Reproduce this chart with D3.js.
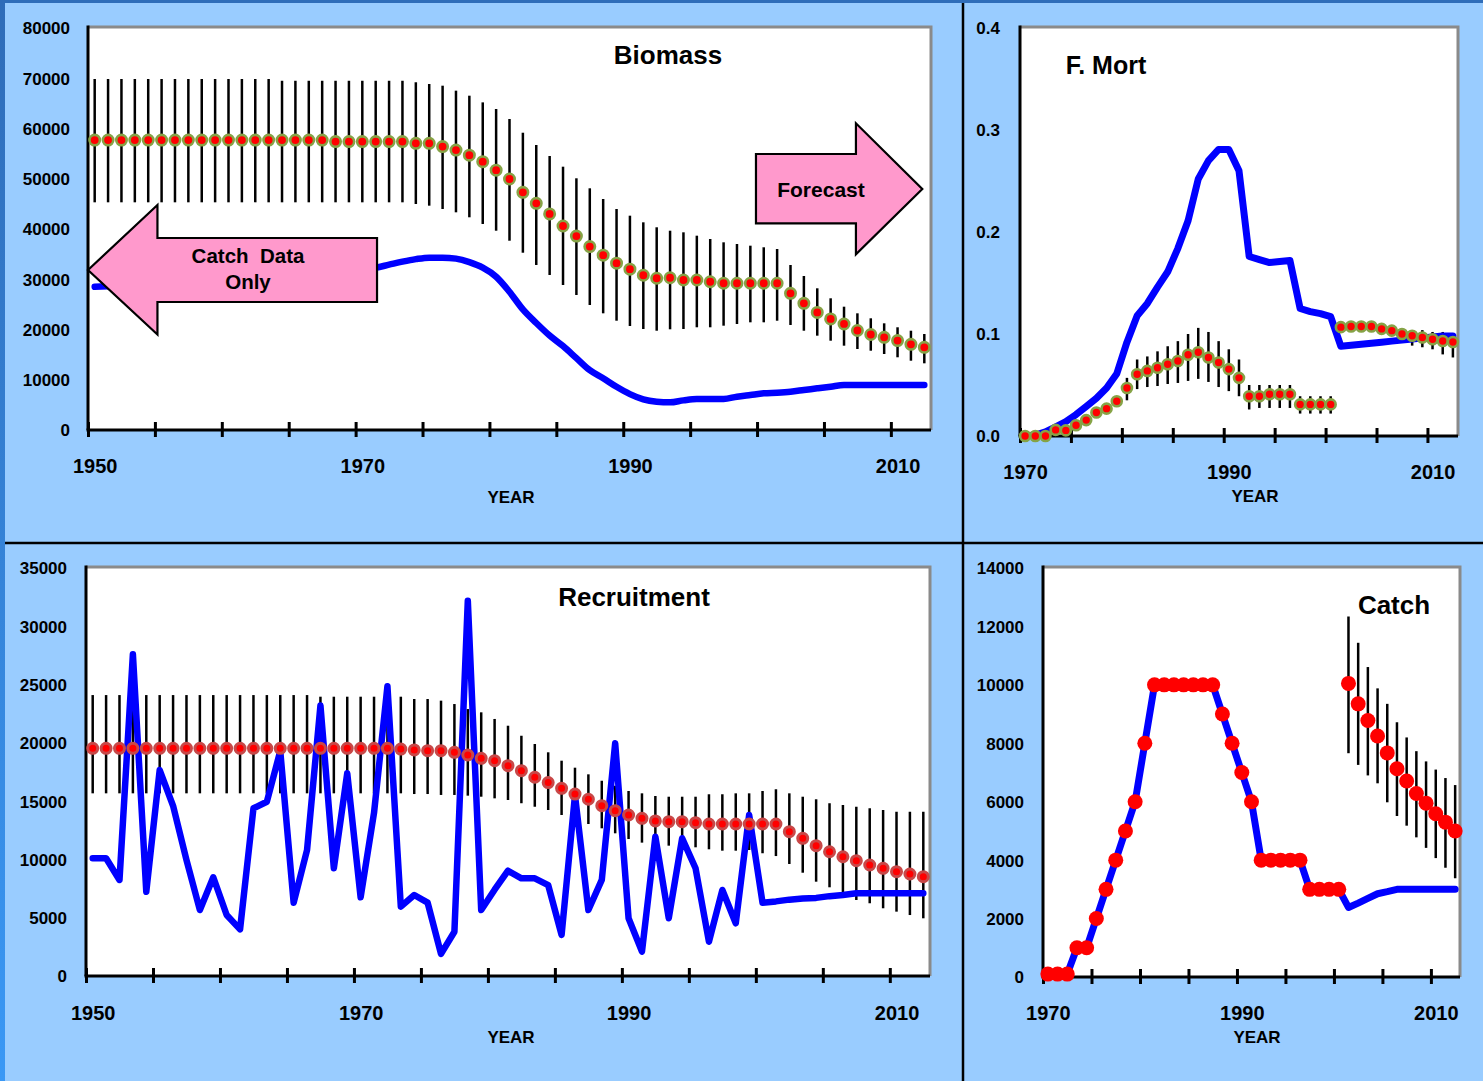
<!DOCTYPE html>
<html><head><meta charset="utf-8">
<script src="https://cdn.jsdelivr.net/npm/d3@7"></script>
<style>
html,body{margin:0;padding:0;background:#99CCFF;}
svg{display:block;}
text{font-family:"Liberation Sans",Arial,sans-serif;font-weight:bold;fill:#000;}
</style></head><body>
<svg id="c" width="1483" height="1081"></svg>
<script>
// ---------------- DATA ----------------
const bioStart = 1950;
const bioEst = [57700,57700,57700,57700,57700,57700,57700,57700,57700,57700,
  57700,57700,57700,57700,57700,57700,57700,57700,57400,57400,
  57400,57400,57400,57400,57050,57050,56400,55700,54700,53400,
  51700,49950,47300,45100,43000,40600,38600,36500,34800,33200,
  32000,30800,30200,30300,29850,29850,29500,29200,29200,29200,
  29200,29200,27200,25200,23400,22100,21100,19800,19000,18450,
  17800,17050,16450];
const bioUpper = [69850,69850,69850,69850,69850,69850,69850,69850,69850,69850,
  69850,69850,69850,69850,69500,69500,69500,69500,69500,69500,
  69500,69500,69500,69500,69200,68860,68520,67530,66530,65200,
  63880,61890,59160,56720,54530,52400,50090,48100,45970,43980,
  42650,41330,40340,39660,39340,38670,38010,37350,37010,36680,
  36360,36020,32840,30650,28200,26210,24540,23220,22230,21230,
  20440,19760,19100];
const bioLower = [45310,45310,45310,45310,45310,45310,45310,45310,45310,45310,
  45310,45310,45310,45310,45310,45310,45310,45310,45310,45310,
  45310,45310,45310,45310,44970,44640,43980,43320,42330,41000,
  39660,37670,35280,32840,30850,28860,26870,24880,23220,21750,
  20700,20100,19760,20040,20100,20440,20440,20760,21090,21430,
  21430,21750,20900,19760,18770,17770,16780,16120,15780,15120,
  14470,13790,13270];
const bioModel = [28500,28600,28700,28900,29100,29300,29500,29700,29900,30100,
  30300,30500,30700,30900,31100,31300,31500,31700,31900,32100,
  32100,32300,32900,33500,34000,34300,34300,34100,33400,32300,
  30500,27500,24000,21300,18800,16700,14300,11900,10300,8600,
  7150,6100,5630,5500,5900,6170,6170,6170,6630,6970,
  7300,7430,7630,7960,8290,8620,8960,8960,8960,8960,
  8960,8960,8960];

const fStart = 1970;
const fModel = [0.000,0.001,0.004,0.009,0.014,0.021,0.029,0.037,0.047,0.061,
  0.092,0.118,0.130,0.146,0.161,0.184,0.211,0.252,0.270,0.281,
  0.281,0.260,0.176,0.173,0.170,0.171,0.172,0.125,0.122,0.120,
  0.117,0.088,0.089,0.090,0.091,0.092,0.093,0.094,0.095,0.096,
  0.097,0.098,0.098];
const fObs = [0,0,0,0.006,0.0055,0.0105,0.0156,0.023,0.0268,0.034,
  0.047,0.0605,0.0638,0.0669,0.0703,0.0736,0.0797,0.0821,0.077,0.072,
  0.0656,0.057,0.039,0.039,0.041,0.041,0.041,0.031,0.031,0.031,0.031];
const fObsUpper = [0.001,0.001,0.001,0.008,0.008,0.013,0.018,0.026,0.030,0.039,
  0.057,0.075,0.078,0.083,0.088,0.093,0.100,0.106,0.102,0.093,
  0.085,0.075,0.050,0.050,0.050,0.050,0.050,0.039,0.039,0.039,0.039];
const fObsLower = [0,0,0,0.004,0.003,0.008,0.013,0.020,0.023,0.029,
  0.035,0.046,0.048,0.049,0.051,0.052,0.054,0.056,0.053,0.048,
  0.044,0.039,0.026,0.0275,0.0275,0.0275,0.0275,0.022,0.022,0.022,0.022];
const fFcStart = 2001;
const fFc = [0.1067,0.1074,0.1074,0.1074,0.105,0.1033,0.100,0.0983,0.0966,0.0949,0.0932,0.0922];
const fFcUpper = [0.109,0.110,0.1105,0.111,0.109,0.108,0.1055,0.1038,0.1038,0.102,0.102,0.101];
const fFcLower = [0.104,0.104,0.1035,0.103,0.100,0.098,0.0925,0.0886,0.087,0.085,0.080,0.077];

const recStart = 1950;
const recModel = [10100,10100,8240,27600,7230,17670,14600,9950,5660,8470,
  5230,4000,14390,14950,19300,6290,10810,23200,9240,17390,
  6750,14000,24850,5950,6950,6290,1900,3800,32200,5660,
  7400,9030,8380,8380,7800,3520,15500,5660,8240,19960,
  4950,2090,11950,4950,11810,9240,2940,7380,4520,13810,
  6290,6400,6550,6650,6700,6850,6950,7100,7100,7100,
  7100,7100,7100];
const recEst = [19530,19530,19530,19530,19530,19530,19530,19530,19530,19530,
  19530,19530,19530,19530,19530,19530,19530,19530,19530,19530,
  19530,19530,19530,19470,19390,19330,19330,19190,18960,18670,
  18470,18040,17610,17050,16590,16100,15610,15160,14610,14180,
  13810,13530,13300,13240,13240,13150,13040,13040,13040,13040,
  13040,13040,12380,11810,11180,10660,10230,9890,9520,9240,
  8950,8750,8520];
const recUpper = [24100,24100,24100,24100,24100,24100,24100,24100,24100,24100,
  24100,24100,24100,24100,24100,24100,24100,23960,23960,23960,
  23960,23960,23960,23960,23760,23760,23620,23330,22900,22620,
  22050,21470,20610,19900,19190,18470,17870,17300,16750,16320,
  15870,15670,15440,15380,15380,15380,15590,15590,15670,15670,
  15870,16020,15670,15380,15160,14820,14670,14520,14390,14240,
  14090,14090,14090];
const recLower = [15670,15670,15670,15670,15670,15670,15670,15670,15670,15670,
  15670,15670,15670,15670,15670,15670,15670,15670,15670,15670,
  15670,15670,15670,15670,15610,15610,15530,15530,15470,15380,
  15240,15100,14820,14520,14240,13810,13550,13040,12670,12240,
  11750,11440,11300,11180,11090,11040,10870,10750,10750,10810,
  10530,10290,9610,8860,8090,7610,7030,6520,6240,5810,
  5520,5230,4950];

const catStart = 1970;
const catObs = [100,100,100,1000,1000,2000,3000,4000,5000,6000,
  8000,10000,10000,10000,10000,10000,10000,10000,9000,8000,
  7000,6000,4000,4000,4000,4000,4000,3000,3000,3000,3000];
const catModel = [100,100,100,1000,1000,2000,3000,4000,5000,6000,
  8000,10000,10000,10000,10000,10000,10000,10000,9000,8000,
  7000,6000,4000,4000,4000,4000,4000,3000,3000,3000,3000,
  2380,2530,2690,2850,2920,3000,3000,3000,3000,3000,3000,3000];
const catFcStart = 2001;
const catFc = [10050,9350,8780,8250,7670,7130,6710,6280,5950,5590,5300,5000];
const catFcUpper = [12340,11440,10610,9880,9350,8720,8200,7730,7380,7100,6810,6570];
const catFcLower = [7660,7260,6900,6630,5980,5510,5180,4780,4420,4070,3740,3380];

const bioTicks = [0,10000,20000,30000,40000,50000,60000,70000,80000];
const fTicks = [0,0.1,0.2,0.3,0.4];
const recTicks = [0,5000,10000,15000,20000,25000,30000,35000];
const catTicks = [0,2000,4000,6000,8000,10000,12000,14000];
const longYearLabels = [1950,1970,1990,2010];
const shortYearLabels = [1970,1990,2010];

// annotation arrows (in data units: year, value)
const arrowBack = [[1949.5,31840],[1954.69,44780],[1954.69,38210],[1971.1,38210],[1971.1,25470],[1954.69,25470],[1954.69,19000]];
const arrowFwd = [[1999.42,54930],[2006.89,54930],[2006.89,61030],[2011.85,47960],[2006.89,34960],[2006.89,41130],[1999.42,41130]];

// ---------------- DRAW ----------------
const FONT = '"Liberation Sans", Arial, sans-serif';
const svg = d3.select("#c");
const defs = svg.append("defs");
const lg = defs.append("linearGradient").attr("id","lg").attr("x1",0).attr("y1",0).attr("x2",0).attr("y2",1);
lg.append("stop").attr("offset","0%").attr("stop-color","#2F6CB8");
lg.append("stop").attr("offset","100%").attr("stop-color","#3A98F5");

svg.append("rect").attr("width",1483).attr("height",1081).attr("fill","#99CCFF");
svg.append("rect").attr("x",0).attr("y",0).attr("width",1483).attr("height",3).attr("fill","#2F6DB9");
svg.append("rect").attr("x",0).attr("y",0).attr("width",5).attr("height",1081).attr("fill","url(#lg)");
svg.append("line").attr("x1",963).attr("x2",963).attr("y1",3).attr("y2",1081).attr("stroke","#000").attr("stroke-width",2.5);
svg.append("line").attr("x1",5).attr("x2",1483).attr("y1",543).attr("y2",543).attr("stroke","#000").attr("stroke-width",2.5);

function makePanel(o){
  const g = svg.append("g");
  const x = d3.scaleLinear().domain([o.start-0.5, o.start+o.n-0.5]).range([o.x0,o.x1]);
  const y = d3.scaleLinear().domain([0,o.ymax]).range([o.yb,o.yt]);
  g.append("rect").attr("x",o.x0).attr("y",o.top).attr("width",o.x1-o.x0).attr("height",o.yb-o.top).attr("fill","#fff");
  g.append("path").attr("d",`M${o.x0},${o.top}H${o.x1}V${o.yb}`).attr("fill","none").attr("stroke","#8A8A8A").attr("stroke-width",3);
  g.append("line").attr("x1",o.x0).attr("x2",o.x0).attr("y1",o.top-1.5).attr("y2",o.yb).attr("stroke","#000").attr("stroke-width",3);
  const tickVals = d3.range(0,o.n,5).map(k=>o.start-0.5+k);
  g.append("g").attr("transform",`translate(0,${o.yb-8})`)
    .call(d3.axisBottom(x).tickValues(tickVals).tickSize(15).tickFormat(""))
    .call(s=>{s.select(".domain").remove(); s.selectAll(".tick line").attr("stroke","#000").attr("stroke-width",3);});
  g.append("line").attr("x1",o.x0-1.5).attr("x2",o.x1).attr("y1",o.yb).attr("y2",o.yb).attr("stroke","#000").attr("stroke-width",3);
  g.append("g").attr("transform",`translate(0,${o.xly})`)
    .attr("font-family",FONT).attr("font-size",20).attr("font-weight","bold")
    .call(d3.axisBottom(x).tickValues(o.xlabels).tickSize(0).tickPadding(0).tickFormat(d3.format("d")))
    .call(s=>{s.select(".domain").remove(); s.selectAll("text").attr("y",0).attr("dy","0.35em").attr("font-size",20);});
  g.append("g").attr("transform",`translate(${o.ylx},0)`)
    .attr("font-family",FONT).attr("font-size",17).attr("font-weight","bold")
    .call(d3.axisLeft(y).tickValues(o.yticks).tickSize(0).tickPadding(0).tickFormat(o.yfmt))
    .call(s=>{s.select(".domain").remove(); s.selectAll("text").attr("dy","0.35em").attr("font-size",17);});
  g.append("text").attr("x",o.yearX).attr("y",o.yearY).attr("text-anchor","middle").attr("dy","0.35em").attr("font-size",17).text("YEAR");
  return {g,x,y,o};
}
function errBars(P,start,up,lo){
  P.g.append("g").selectAll("line").data(up).join("line")
    .attr("x1",(d,i)=>P.x(start+i)).attr("x2",(d,i)=>P.x(start+i))
    .attr("y1",d=>P.y(d)).attr("y2",(d,i)=>P.y(lo[i]))
    .attr("stroke","#000").attr("stroke-width",2.5);
}
function blueLine(P,start,vals,w,curve){
  const l = d3.line().x((d,i)=>P.x(start+i)).y(d=>P.y(d)).curve(curve||d3.curveLinear);
  P.g.append("path").datum(vals).attr("d",l).attr("fill","none").attr("stroke","#0000FF")
    .attr("stroke-width",w).attr("stroke-linejoin","round").attr("stroke-linecap","round");
}
function dots(P,start,vals,r,fill,stroke,sw){
  P.g.append("g").selectAll("circle").data(vals).join("circle")
    .attr("cx",(d,i)=>P.x(start+i)).attr("cy",d=>P.y(d)).attr("r",r)
    .attr("fill",fill).attr("stroke",stroke||"none").attr("stroke-width",sw||0);
}
function title(P,tx,ty,txt,size){
  P.g.append("text").attr("x",tx).attr("y",ty).attr("text-anchor","middle").attr("dy","0.35em").attr("font-size",size).text(txt);
}
const GREEN = "#86A346", RED = "#FF0000", BROWN = "#C84848";

// Biomass
const P1 = makePanel({start:bioStart,n:63,x0:88,x1:931,top:27,yb:430,yt:28,ymax:80000,yticks:bioTicks,yfmt:d3.format("d"),ylx:70,xlabels:longYearLabels,xly:466,yearX:511,yearY:497});
errBars(P1,bioStart,bioUpper,bioLower);
blueLine(P1,bioStart,bioModel,6.5,d3.curveMonotoneX);
dots(P1,bioStart,bioEst,5.2,RED,GREEN,2.6);
const arrowLine = d3.line().x(d=>P1.x(d[0])).y(d=>P1.y(d[1]));
P1.g.append("path").attr("d",arrowLine(arrowBack)+"Z").attr("fill","#FF99CC").attr("stroke","#000").attr("stroke-width",2.2).attr("stroke-linejoin","miter");
P1.g.append("path").attr("d",arrowLine(arrowFwd)+"Z").attr("fill","#FF99CC").attr("stroke","#000").attr("stroke-width",2.2).attr("stroke-linejoin","miter");
P1.g.append("text").attr("x",248).attr("y",256).attr("text-anchor","middle").attr("dy","0.35em").attr("font-size",20.5).attr("xml:space","preserve").style("white-space","pre").text("Catch  Data");
P1.g.append("text").attr("x",248).attr("y",282).attr("text-anchor","middle").attr("dy","0.35em").attr("font-size",20.5).text("Only");
P1.g.append("text").attr("x",821).attr("y",190).attr("text-anchor","middle").attr("dy","0.35em").attr("font-size",21).text("Forecast");
title(P1,668,55,"Biomass",26);

// F. Mort
const P2 = makePanel({start:fStart,n:43,x0:1020,x1:1458,top:27,yb:436,yt:28,ymax:0.4,yticks:fTicks,yfmt:d3.format(".1f"),ylx:1000,xlabels:shortYearLabels,xly:472,yearX:1255,yearY:496});
errBars(P2,fStart,fObsUpper,fObsLower);
errBars(P2,fFcStart,fFcUpper,fFcLower);
blueLine(P2,fStart,fModel,7);
dots(P2,fStart,fObs,5,RED,GREEN,2.6);
dots(P2,fFcStart,fFc,5,RED,GREEN,2.6);
title(P2,1106,65,"F. Mort",25);

// Recruitment
const P3 = makePanel({start:recStart,n:63,x0:86,x1:930,top:567,yb:976,yt:568,ymax:35000,yticks:recTicks,yfmt:d3.format("d"),ylx:67,xlabels:longYearLabels,xly:1013,yearX:511,yearY:1037});
errBars(P3,recStart,recUpper,recLower);
blueLine(P3,recStart,recModel,6.5);
dots(P3,recStart,recEst,5,RED,BROWN,3);
title(P3,634,597,"Recruitment",26);

// Catch
const P4 = makePanel({start:catStart,n:43,x0:1043,x1:1460,top:567,yb:977,yt:568,ymax:14000,yticks:catTicks,yfmt:d3.format("d"),ylx:1024,xlabels:shortYearLabels,xly:1013,yearX:1257,yearY:1037});
errBars(P4,catFcStart,catFcUpper,catFcLower);
blueLine(P4,catStart,catModel,7);
dots(P4,catStart,catObs,7.5,RED);
dots(P4,catFcStart,catFc,7.5,RED);
title(P4,1394,605,"Catch",26);
</script>
</body></html>
